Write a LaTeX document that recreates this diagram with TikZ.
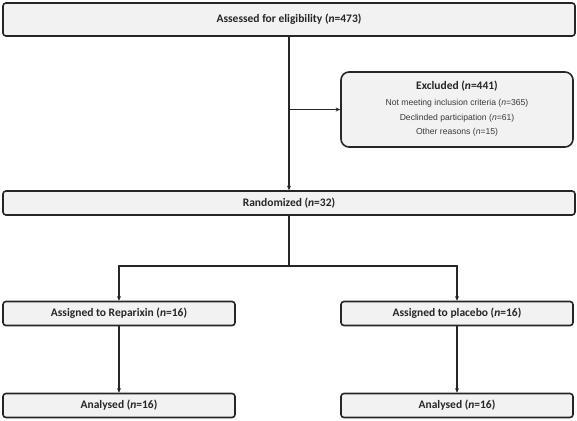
\documentclass[tikz,border=0pt]{standalone}
\usepackage{fontspec}
\setmainfont{Carlito}
\newfontfamily\arialf{Liberation Sans}
\usetikzlibrary{arrows.meta}
\definecolor{boxfill}{HTML}{F2F2F2}
\definecolor{edge}{HTML}{262626}
\definecolor{subtxt}{HTML}{3A3A3A}
\begin{document}
\begin{tikzpicture}[x=1pt,y=-1pt,
  mainfont/.style={font=\fontsize{11.5}{13}\selectfont\bfseries,text=black!85},
  subfont/.style={font=\arialf\fontsize{8.6}{10}\selectfont,text=subtxt},
  flowbox/.style={draw=edge,line width=1.6pt,fill=boxfill,rounded corners=3pt,
    minimum width=#1,inner sep=0pt,align=center,mainfont},
  conn/.style={draw=edge,line width=1.2pt},
  arr/.style={conn,-{Stealth[length=4.5pt,width=4pt]}}]
\useasboundingbox (0,0) rectangle (577,420);
\node[flowbox=572pt,minimum height=33pt] (top) at (289,19.5) {Assessed for eligibility (\textit{n}=473)};
\node[flowbox=232pt,minimum height=75pt,rounded corners=8pt] (excl) at (457,109.5) {};
\node[mainfont] (exT) at (457,86) {Excluded (\textit{n}=441)};
\node[subfont] (ex1) at (457,103) {Not meeting inclusion criteria (\textit{n}=365)};
\node[subfont] (ex2) at (457,118) {Declinded participation (\textit{n}=61)};
\node[subfont] (ex3) at (457,132) {Other reasons (\textit{n}=15)};
\node[flowbox=572pt,minimum height=24pt] (rand) at (289,203) {Randomized (\textit{n}=32)};
\node[flowbox=232pt,minimum height=24pt] (a1) at (119,313.5) {Assigned to Reparixin (\textit{n}=16)};
\node[flowbox=232pt,minimum height=24pt] (a2) at (457,313.5) {Assigned to placebo (\textit{n}=16)};
\node[flowbox=232pt,minimum height=24pt] (b1) at (119,405.5) {Analysed (\textit{n}=16)};
\node[flowbox=232pt,minimum height=24pt] (b2) at (457,405.5) {Analysed (\textit{n}=16)};
\draw[arr] (top.south) -- (rand.north);
\coordinate (branch) at (top.south |- excl.west);
\draw[arr] (branch) -- (excl.west);
\coordinate (split) at (289,266);
\draw[conn] (rand.south) -- (split);
\draw[arr] (split) -| (a1.north);
\draw[arr] (split) -| (a2.north);
\draw[arr] (a1.south) -- (b1.north);
\draw[arr] (a2.south) -- (b2.north);
\end{tikzpicture}
\end{document}
